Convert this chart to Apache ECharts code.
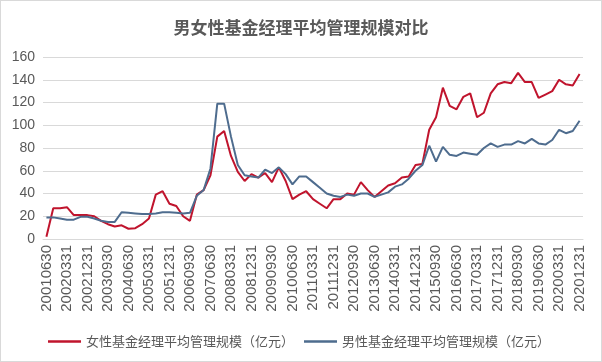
<!DOCTYPE html>
<html>
<head>
<meta charset="utf-8">
<script src="https://cdn.jsdelivr.net/npm/echarts@6/dist/echarts.min.js"></script>
<style>
html,body{margin:0;padding:0;background:#fff;}
#main{width:600px;height:360px;border:1px solid #d9d9d9;}
</style>
</head>
<body>
<div id="main"></div>
<script>
var categories = [];
(function(){
  var ends = ['0331','0630','0930','1231'];
  for (var y = 2001; y <= 2020; y++) {
    for (var q = 0; q < 4; q++) {
      if (y === 2001 && q === 0) continue;
      categories.push(String(y) + ends[q]);
    }
  }
})();

var femaleName = '女性基金经理平均管理规模（亿元）';
var maleName = '男性基金经理平均管理规模（亿元）';
var titleText = '男女性基金经理平均管理规模对比';

var femaleValues = [2,27,27,28,21,21,21,20,16,13,11,12,9,9.5,13,18,39,42,31,29,
  20,16,39,43,56,90,95,73,59,51,57,54,58,50,63,51,35,39,42,35,
  31,27,35,35,40,39,50,43,37,42,47,49,54,55,65,66,96,107,133,117,
  114,125,128,107,111,128,136,138,137,146,138,138,124,127,130,140,136,135,145];

var maleValues = [19,19,18,17,17,19.5,19.5,18,16,15,15,23.5,23,22.5,22,22,22.5,23.5,23.5,23,
  22.5,23,38,43,62,119,119,90,65,56,55,54,61,58,63,57,48,55,55,50,
  45,40,38,37,39,38,40,40,37,39,41,46,48,53,60,65,82,68,81,74,
  73,76,75,74,80,84,81,83,83,86,84,88,84,83,87,96,93,95,104];

var yTicks = {min: 0, max: 160, interval: 20};

var chart = echarts.init(document.getElementById('main'), null, {renderer: 'canvas'});
chart.setOption({
  animation: false,
  backgroundColor: '#ffffff',
  title: {
    text: titleText,
    left: 'center',
    top: 13,
    textStyle: {fontSize: 17, fontWeight: 'bold', color: '#595959', fontFamily: '"Noto Sans CJK SC", sans-serif'}
  },
  grid: {left: 42, right: 18, top: 56, bottom: 122, containLabel: false},
  legend: {
    left: 42,
    top: 329,
    icon: 'rect',
    itemWidth: 33,
    itemHeight: 2.5,
    itemGap: 10,
    textStyle: {fontSize: 13, color: '#595959', fontFamily: '"Noto Sans CJK SC", sans-serif'},
    data: [femaleName, maleName]
  },
  xAxis: {
    type: 'category',
    data: categories,
    boundaryGap: true,
    axisLine: {show: true, lineStyle: {color: '#d9d9d9'}},
    axisTick: {show: false},
    axisLabel: {
      interval: 2,
      rotate: 90,
      margin: 6,
      fontSize: 15,
      color: '#595959',
      fontFamily: '"Liberation Sans", Arial, sans-serif'
    }
  },
  yAxis: {
    type: 'value',
    min: yTicks.min,
    max: yTicks.max,
    interval: yTicks.interval,
    axisLine: {show: false},
    axisTick: {show: false},
    splitLine: {lineStyle: {color: '#d9d9d9', width: 1}},
    axisLabel: {fontSize: 14, color: '#595959', margin: 8, fontFamily: '"Liberation Sans", Arial, sans-serif'}
  },
  series: [
    {
      name: femaleName,
      type: 'line',
      data: femaleValues,
      symbol: 'none',
      lineStyle: {color: '#C0142D', width: 2},
      itemStyle: {color: '#C0142D'}
    },
    {
      name: maleName,
      type: 'line',
      data: maleValues,
      symbol: 'none',
      lineStyle: {color: '#4E6C8E', width: 2},
      itemStyle: {color: '#4E6C8E'}
    }
  ]
});
</script>
</body>
</html>
